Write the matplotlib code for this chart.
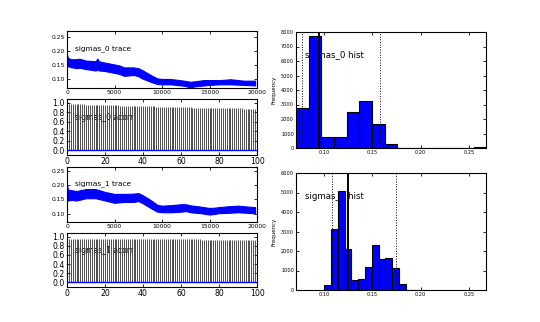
import matplotlib
matplotlib.use("Agg")
import matplotlib.pyplot as plt

# ---- data ----
names = ["sigmas_0", "sigmas_1"]

# trace envelopes (iteration, low, high)
trace0_iter = [0, 100, 400, 1050, 1300, 2000, 3000, 3200, 3400, 4000, 4900, 5500, 6000, 7000,
               7500, 7900, 8800, 9500, 10000, 10900, 12300, 13000, 13500, 14400, 15000,
               16100, 17200, 18600, 19800]
trace0_lo = [0.146, 0.145, 0.142, 0.138, 0.140, 0.135, 0.130, 0.132, 0.130, 0.128, 0.122, 0.118,
             0.111, 0.114, 0.110, 0.102, 0.090, 0.082, 0.081, 0.081, 0.076, 0.070, 0.074,
             0.077, 0.079, 0.081, 0.081, 0.079, 0.077]
trace0_hi = [0.185, 0.175, 0.170, 0.170, 0.172, 0.165, 0.163, 0.172, 0.162, 0.158, 0.152, 0.148,
             0.141, 0.141, 0.138, 0.132, 0.114, 0.102, 0.100, 0.100, 0.094, 0.090, 0.092,
             0.096, 0.096, 0.096, 0.099, 0.094, 0.094]

trace1_iter = [0, 100, 500, 1000, 2000, 3000, 4000, 5000, 6000, 7000, 7500, 8000, 8500, 9000,
               9500, 10000, 11000, 12000, 12500, 13000, 14000, 15000, 15500, 16000, 17000,
               18000, 19000, 19800]
trace1_lo = [0.146, 0.146, 0.148, 0.146, 0.154, 0.154, 0.146, 0.138, 0.141, 0.141, 0.144, 0.136,
             0.126, 0.116, 0.107, 0.105, 0.105, 0.107, 0.109, 0.105, 0.102, 0.097, 0.099,
             0.102, 0.103, 0.105, 0.103, 0.101]
trace1_hi = [0.200, 0.184, 0.182, 0.179, 0.186, 0.186, 0.176, 0.169, 0.169, 0.170, 0.172, 0.164,
             0.154, 0.143, 0.131, 0.128, 0.130, 0.133, 0.133, 0.129, 0.125, 0.120, 0.121,
             0.123, 0.126, 0.128, 0.125, 0.123]

# autocorrelation, lags 0..100
acorr0 = [1.00,
          0.97, 0.97, 0.97, 0.97, 0.97, 0.97, 0.97, 0.97, 0.97, 0.96,
          0.96, 0.96, 0.96, 0.96, 0.96, 0.96, 0.96, 0.96, 0.95, 0.95,
          0.95, 0.95, 0.95, 0.95, 0.95, 0.95, 0.95, 0.94, 0.94, 0.94,
          0.94, 0.94, 0.94, 0.94, 0.94, 0.94, 0.94, 0.93, 0.93, 0.93,
          0.93, 0.93, 0.93, 0.93, 0.93, 0.93, 0.92, 0.92, 0.92, 0.92,
          0.92, 0.92, 0.92, 0.92, 0.92, 0.91, 0.91, 0.91, 0.91, 0.91,
          0.91, 0.91, 0.91, 0.91, 0.91, 0.90, 0.90, 0.90, 0.90, 0.90,
          0.90, 0.90, 0.90, 0.90, 0.89, 0.89, 0.89, 0.89, 0.89, 0.89,
          0.89, 0.89, 0.89, 0.88, 0.88, 0.88, 0.88, 0.88, 0.88, 0.88,
          0.88, 0.88, 0.87, 0.87, 0.87, 0.87, 0.87, 0.87, 0.87, 0.87]
acorr1 = [1.00,
          0.95, 0.95, 0.95, 0.95, 0.95, 0.95, 0.95, 0.95, 0.95, 0.95,
          0.95, 0.95, 0.95, 0.95, 0.95, 0.95, 0.95, 0.95, 0.95, 0.95,
          0.95, 0.95, 0.95, 0.95, 0.95, 0.95, 0.95, 0.95, 0.95, 0.95,
          0.94, 0.94, 0.94, 0.94, 0.94, 0.94, 0.94, 0.94, 0.94, 0.94,
          0.94, 0.94, 0.94, 0.94, 0.94, 0.94, 0.94, 0.94, 0.94, 0.94,
          0.94, 0.94, 0.94, 0.94, 0.94, 0.94, 0.94, 0.94, 0.94, 0.94,
          0.94, 0.94, 0.94, 0.94, 0.94, 0.94, 0.94, 0.94, 0.94, 0.94,
          0.93, 0.93, 0.93, 0.93, 0.93, 0.93, 0.93, 0.93, 0.93, 0.93,
          0.93, 0.93, 0.93, 0.93, 0.93, 0.93, 0.93, 0.93, 0.93, 0.93,
          0.93, 0.93, 0.93, 0.93, 0.93, 0.93, 0.93, 0.93, 0.93, 0.93]

# histograms: bin edges and counts
hist0_edges = [0.0713, 0.0844, 0.0975, 0.1106, 0.1237, 0.1368, 0.1499, 0.1630, 0.1761,
               0.1892, 0.2023, 0.2154, 0.2285, 0.2416, 0.2547, 0.2675]
hist0_counts = [2750, 7750, 780, 780, 2500, 3220, 1680, 250, 30, 10, 5, 5, 5, 5, 100]
hist0_mean, hist0_hpd = 0.0949, (0.0779, 0.1578)

hist1_edges = [0.1005, 0.1075, 0.1145, 0.1215, 0.1285, 0.1355, 0.1425, 0.1495, 0.1565,
               0.1635, 0.1705, 0.1775, 0.1845, 0.1915, 0.1985, 0.2055]
hist1_counts = [250, 3150, 5100, 2080, 520, 580, 1200, 2330, 1580, 1620, 1120, 300, 20, 10, 5]
hist1_mean, hist1_hpd = 0.1254, (0.1082, 0.1747)

BLUE = "#0000ff"
W, H = 540.0, 322.0


def px_axes(fig, left, top, right, bottom):
    return fig.add_axes([left / W, 1 - bottom / H, (right - left) / W, (bottom - top) / H])


def style(ax, fs):
    ax.tick_params(direction="in", top=True, right=True, length=2.5, width=0.6,
                   labelsize=fs, pad=1.5)
    for s in ax.spines.values():
        s.set_linewidth(0.8)


fig = plt.figure(figsize=(5.4, 3.22), dpi=100)
fig.patch.set_facecolor("white")

traces = [(trace0_iter, trace0_lo, trace0_hi, (0.068, 0.270)),
          (trace1_iter, trace1_lo, trace1_hi, (0.071, 0.263))]
acorrs = [acorr0, acorr1]
trace_box = [(31, 88), (167, 222)]
acorr_box = [(99, 155), (233, 287)]

for i in range(2):
    it, lo, hi, yl = traces[i]
    ax = px_axes(fig, 67, trace_box[i][0], 257, trace_box[i][1])
    ax.fill_between(it, lo, hi, color=BLUE, edgecolor=BLUE, linewidth=0.8)
    ax.set_xlim(0, 20000)
    ax.set_ylim(*yl)
    ax.set_xticks([0, 5000, 10000, 15000, 20000])
    ax.set_yticks([0.10, 0.15, 0.20, 0.25])
    ax.set_yticklabels(["0.10", "0.15", "0.20", "0.25"])
    style(ax, 4.3)
    ax.text(0.04, 0.69, names[i] + " trace", transform=ax.transAxes,
            fontsize=5.3, va="center", zorder=1)

    ax = px_axes(fig, 67, acorr_box[i][0], 257, acorr_box[i][1])
    lags = list(range(len(acorrs[i])))
    ax.vlines(lags, 0, acorrs[i], colors="0.25", linewidth=0.65, zorder=2)
    ax.axhline(0, color=BLUE, linewidth=1.0, zorder=3)
    ax.set_xlim(0, 100)
    ax.set_ylim(-0.1, 1.08)
    ax.set_yticks([0.0, 0.2, 0.4, 0.6, 0.8, 1.0])
    ax.set_xticks([0, 20, 40, 60, 80, 100])
    style(ax, 5.6)
    ax.text(0.04, 0.67, names[i] + " acorr", transform=ax.transAxes,
            fontsize=5.5, va="center", zorder=1)

hists = [(hist0_edges, hist0_counts, hist0_mean, hist0_hpd, 8000, (32, 148)),
         (hist1_edges, hist1_counts, hist1_mean, hist1_hpd, 6000, (173, 290))]
for i, (edges, counts, mean, hpd, ytop, box) in enumerate(hists):
    ax = px_axes(fig, 296, box[0], 486, box[1])
    widths = [edges[k + 1] - edges[k] for k in range(len(counts))]
    ax.bar(edges[:-1], counts, width=widths, align="edge", color=BLUE,
           edgecolor="k", linewidth=0.8, zorder=2)
    ax.axvline(mean, color="k", linewidth=1.4, zorder=3)
    for h in hpd:
        ax.axvline(h, color="k", linestyle=":", linewidth=0.7, zorder=3)
    ax.set_xlim(hist0_edges[0], hist0_edges[-1])
    ax.set_ylim(0, ytop)
    ax.set_xticks([0.10, 0.15, 0.20, 0.25])
    ax.set_xticklabels(["0.10", "0.15", "0.20", "0.25"])
    ax.set_yticks(range(0, ytop + 1, 1000))
    style(ax, 3.6)
    ax.set_ylabel("Frequency", fontsize=4, labelpad=3)
    ax.text(0.045, 0.80, names[i] + " hist", transform=ax.transAxes,
            fontsize=6.2, va="center", zorder=1)

fig.savefig("out.png", dpi=100, facecolor="white")
